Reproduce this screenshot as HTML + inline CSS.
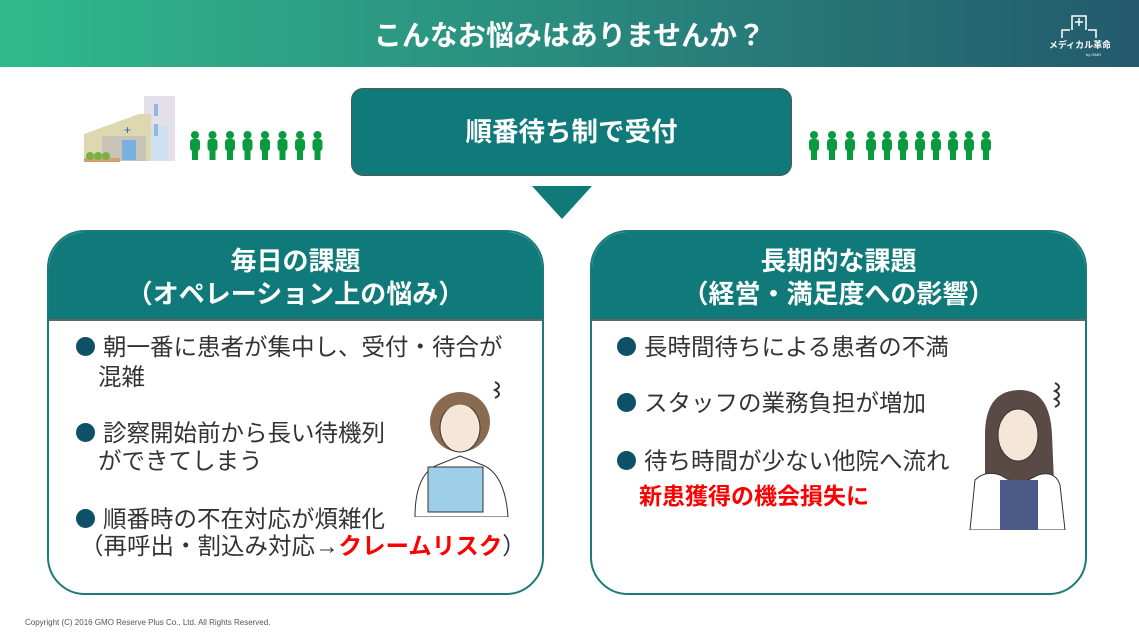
<!DOCTYPE html>
<html><head><meta charset="utf-8"><style>
*{margin:0;padding:0;box-sizing:border-box}
body{width:1139px;height:643px;position:relative;background:#fff;font-family:"Liberation Sans","Noto Sans CJK JP",sans-serif;overflow:hidden}
.a{position:absolute;white-space:nowrap}
.hdr{left:0;top:0;width:1139px;height:67px;background:linear-gradient(90deg,#30b98a 0%,#2a8f80 45%,#235a6c 100%)}
.ttl{left:0;width:1139px;top:14px;text-align:center;color:#fff;font-size:28px;font-weight:bold}
.box{left:351px;top:88px;width:441px;height:88px;background:#107a7b;border-radius:12px;border:1px solid #555;color:#fff;font-size:26.5px;font-weight:bold;text-align:center;line-height:86px}
.panel{top:230px;width:497px;height:365px;border:2px solid #1a7b7b;border-radius:38px;overflow:hidden;background:#fff}
.ph{position:absolute;left:0;top:0;width:100%;height:89px;background:#107a7b;border-bottom:2px solid #666;color:#fff;font-weight:bold;font-size:26px;text-align:center;line-height:33px;padding-top:13px}
.t{font-size:23.5px;color:#333;line-height:28px}
.d{display:inline-block;width:19px;height:19px;border-radius:50%;background:#0d5068;vertical-align:-1px;margin-right:8px}
.red{color:#f00;font-weight:bold}
</style></head><body>
<div class="a hdr"></div>
<div class="a ttl">こんなお悩みはありませんか？</div>
<svg class="a" style="left:1050px;top:12px" width="60" height="50"><g stroke="#fff" fill="none" stroke-width="1.5"><path d="M22 18V4h14v14M12 26V18h8M38 18h8v8M29 6v8M25 10h8"/></g><text x="30" y="36" fill="#fff" font-size="9" text-anchor="middle" font-weight="bold" font-family="Liberation Sans,Noto Sans CJK JP,sans-serif">メディカル革命</text><text x="36" y="44" fill="#fff" font-size="4" font-family="Liberation Sans,sans-serif">by GMO</text></svg>
<svg class="a" style="left:84px;top:96px" width="95" height="66">
<rect x="60" y="0" width="31" height="65" fill="#e4e0ea"/><rect x="62" y="30" width="22" height="34" fill="#cfe0f0"/>
<path d="M0 38L55 18h12v47H0z" fill="#ddd8b0"/><rect x="18" y="40" width="44" height="25" fill="#c8c4b8"/>
<rect x="38" y="44" width="14" height="20" fill="#7ab0e0"/><text x="40" y="38" fill="#2a5fbf" font-size="12">+</text>
<rect x="0" y="62" width="36" height="4" fill="#d4a070"/><circle cx="6" cy="60" r="4" fill="#7ab040"/><circle cx="14" cy="60" r="4" fill="#7ab040"/><circle cx="22" cy="60" r="4" fill="#7ab040"/>
<rect x="70" y="8" width="4" height="12" fill="#90b8e0"/><rect x="70" y="28" width="4" height="12" fill="#90b8e0"/></svg>
<svg class="a" style="left:188px;top:130px" width="145" height="32"><g fill="#0a9a40">
<g id="p"><circle cx="7" cy="5" r="4"/><rect x="2" y="9" width="10" height="12" rx="3"/><rect x="4" y="18" width="6" height="12"/></g>
<use href="#p" x="17.5"/><use href="#p" x="35"/><use href="#p" x="52.5"/><use href="#p" x="70"/><use href="#p" x="87.5"/><use href="#p" x="105"/><use href="#p" x="122.5"/></g></svg>
<svg class="a" style="left:807px;top:130px" width="200" height="32"><g fill="#0a9a40">
<g id="q"><circle cx="7" cy="5" r="4"/><rect x="2" y="9" width="10" height="12" rx="3"/><rect x="4" y="18" width="6" height="12"/></g>
<use href="#q" x="18"/><use href="#q" x="36"/><use href="#q" x="57"/><use href="#q" x="73"/><use href="#q" x="89"/><use href="#q" x="106"/><use href="#q" x="122"/><use href="#q" x="139"/><use href="#q" x="155"/><use href="#q" x="172"/></g></svg>
<div class="a box">順番待ち制で受付</div>
<svg class="a" style="left:532px;top:186px" width="60" height="33"><path d="M0 0H60L30 33z" fill="#107a7b"/></svg>

<div class="a panel" style="left:47px"><div class="ph">毎日の課題<br>（オペレーション上の悩み）</div></div>
<div class="a t" style="left:76px;top:333px"><span class="d"></span>朝一番に患者が集中し、受付・待合が</div>
<div class="a t" style="left:98px;top:363px">混雑</div>
<div class="a t" style="left:76px;top:419px"><span class="d"></span>診察開始前から長い待機列</div>
<div class="a t" style="left:98px;top:447px">ができてしまう</div>
<div class="a t" style="left:76px;top:505px"><span class="d"></span>順番時の不在対応が煩雑化</div>
<div class="a t" style="left:80px;top:532px">（再呼出・割込み対応→<span class="red">クレームリスク</span>）</div>
<svg class="a" style="left:400px;top:372px" width="120" height="145">
<circle cx="60" cy="50" r="30" fill="#8a6a50"/><ellipse cx="60" cy="56" rx="20" ry="24" fill="#f5e6d8" stroke="#333"/>
<path d="M40 45Q60 20 82 45V30Q60 15 38 35z" fill="#8a6a50"/>
<path d="M15 145Q15 100 40 92L60 84L80 92Q105 100 108 145z" fill="#fff" stroke="#333"/>
<rect x="28" y="95" width="55" height="45" fill="#9fcfe8" stroke="#333"/>
<path d="M95 10q8 4 0 8q8 4 0 8" stroke="#333" fill="none" stroke-width="2"/></svg>

<div class="a panel" style="left:590px"><div class="ph">長期的な課題<br>（経営・満足度への影響）</div></div>
<div class="a t" style="left:617px;top:333px"><span class="d"></span>長時間待ちによる患者の不満</div>
<div class="a t" style="left:617px;top:389px"><span class="d"></span>スタッフの業務負担が増加</div>
<div class="a t" style="left:617px;top:447px"><span class="d"></span>待ち時間が少ない他院へ流れ</div>
<div class="a red" style="left:639px;top:477px;font-size:23px">新患獲得の機会損失に</div>
<svg class="a" style="left:960px;top:375px" width="120" height="155">
<path d="M25 60Q25 15 60 15Q90 15 92 60L95 130H25z" fill="#5a4a45"/>
<ellipse cx="58" cy="60" rx="20" ry="26" fill="#f5e6d8" stroke="#333"/>
<path d="M10 155L15 105Q25 95 40 100L58 110L78 100Q95 95 100 110L105 155z" fill="#fff" stroke="#333"/>
<rect x="40" y="105" width="38" height="50" fill="#4c5a88"/>
<path d="M95 8q8 4 0 8q8 4 0 8q8 4 0 8" stroke="#333" fill="none" stroke-width="2"/></svg>

<div class="a" style="left:25px;top:618px;font-size:8px;color:#555">Copyright (C) 2016 GMO Reserve Plus Co., Ltd. All Rights Reserved.</div>
</body></html>
